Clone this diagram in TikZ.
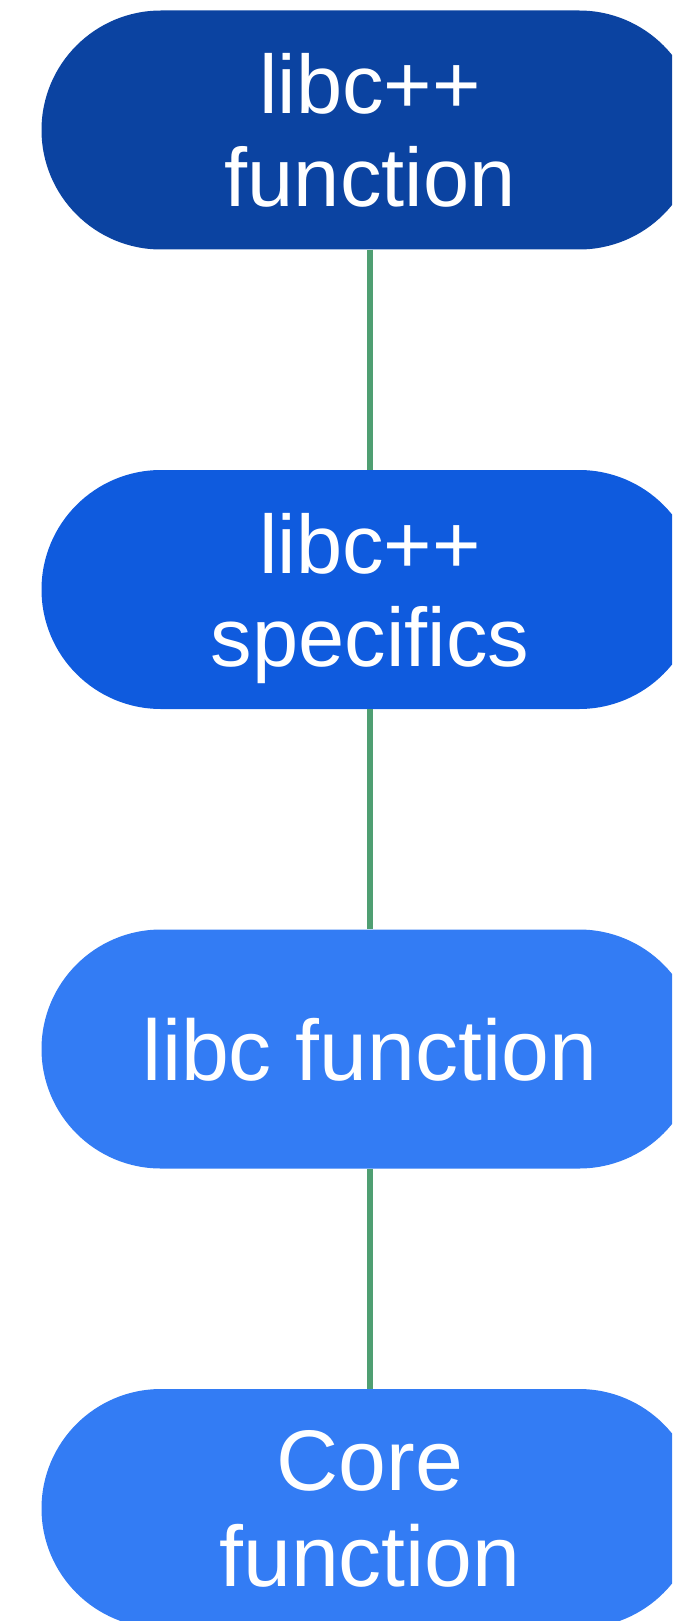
\documentclass[tikz,border=0pt]{standalone}
\usepackage{fontspec}
\setmainfont{Liberation Sans}
\definecolor{stepdark}{HTML}{0B43A1}
\definecolor{stepmid}{HTML}{0F5BDE}
\definecolor{steplight}{HTML}{337CF4}
\definecolor{linkgreen}{HTML}{4F9F72}
\tikzset{
  pill/.style={rectangle, rounded corners=119.5pt, minimum width=657pt,
    minimum height=239pt, inner sep=0pt, text=white, align=center,
    text depth=0pt},
  smalltext/.style={font=\fontsize{83}{93}\selectfont},
  bigtext/.style={font=\fontsize{86}{96}\selectfont},
  link/.style={draw=linkgreen, line width=6pt}
}
\begin{document}
\begin{tikzpicture}[x=1pt,y=-1pt]
  \useasboundingbox (0,0) rectangle (672,1621);
  \begin{scope}
    \clip (0,0) rectangle (672,1621);
    \node[pill, smalltext, fill=stepdark]  (libcxxfn)   at (370,130)    {libc++\\function};
    \node[pill, smalltext, fill=stepmid]   (libcxxspec) at (370,589.5)  {libc++\\specifics};
    \node[pill, bigtext,   fill=steplight] (libcfn)     at (370,1049)   {libc function};
    \node[pill, bigtext,   fill=steplight] (corefn)     at (370,1508.5) {Core\\function};
    \draw[link] (libcxxfn.south) -- (libcxxspec.north);
    \draw[link] (libcxxspec.south) -- (libcfn.north);
    \draw[link] (libcfn.south) -- (corefn.north);
  \end{scope}
\end{tikzpicture}
\end{document}
